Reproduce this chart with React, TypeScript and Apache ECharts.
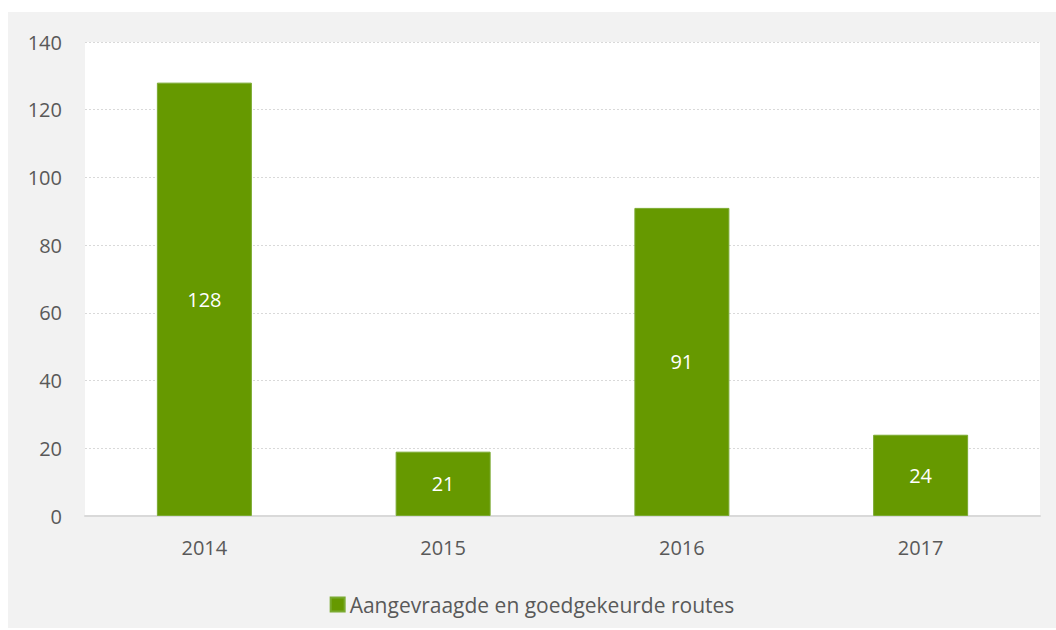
import React, { useEffect, useRef } from "react";
import * as echarts from "echarts";

const categories = ["2014", "2015", "2016", "2017"];
const barValues = [128, 19, 91, 24];
const barLabels = ["128", "21", "91", "24"];
const seriesName = "Aangevraagde en goedgekeurde routes";
const yTicks = { min: 0, max: 140, interval: 20 };

export default function App() {
  const ref = useRef<HTMLDivElement>(null);
  useEffect(() => {
    if (!ref.current) return;
    const chart = echarts.init(ref.current, undefined, { renderer: "svg" });
    const font = "'Open Sans', Carlito, Calibri, sans-serif";
    chart.setOption({
      animation: false,
      backgroundColor: "#f2f2f2",
      textStyle: { fontFamily: font },
      grid: {
        left: 77,
        right: 16,
        top: 30,
        bottom: 112,
        show: true,
        backgroundColor: "#ffffff",
        borderWidth: 0,
      },
      legend: {
        top: 577,
        left: "center",
        itemWidth: 14,
        itemHeight: 14,
        itemGap: 6,
        icon: "rect",
        textStyle: { fontSize: 21, color: "#595959", fontFamily: font },
        data: [seriesName],
      },
      xAxis: {
        type: "category",
        data: categories,
        axisLine: { show: true, lineStyle: { color: "#d9d9d9", width: 2 } },
        axisTick: { show: false },
        axisLabel: { fontSize: 20, color: "#595959", margin: 21, fontFamily: font },
      },
      yAxis: {
        type: "value",
        min: yTicks.min,
        max: yTicks.max,
        interval: yTicks.interval,
        axisLine: { show: false },
        axisTick: { show: false },
        axisLabel: { fontSize: 20, color: "#595959", margin: 23, fontFamily: font },
        splitLine: { lineStyle: { color: "#d9d9d9", type: [2, 2], width: 1 } },
      },
      series: [
        {
          name: seriesName,
          type: "bar",
          data: barValues,
          barWidth: 95,
          itemStyle: { color: "#669900", borderColor: "#7aaa30", borderWidth: 1 },
          label: {
            show: true,
            position: "inside",
            color: "#ffffff",
            fontSize: 20,
            fontFamily: font,
            formatter: (p: any) => barLabels[p.dataIndex],
          },
        },
      ],
    });
    return () => chart.dispose();
  }, []);
  return (
    <div
      ref={ref}
      style={{ position: "absolute", left: 8, top: 12, width: 1048, height: 616 }}
    />
  );
}
